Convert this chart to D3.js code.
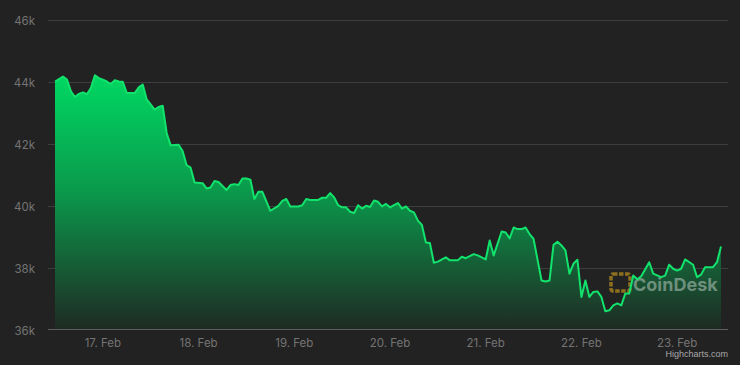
<!DOCTYPE html>
<html lang="en">
<head>
    <meta charset="UTF-8">
    <title>BTC price</title>
    <style>
        body, html {
            margin: 0;
            padding: 0;
            background: #222222;
        }
        #chart text {
            font-family: Inter, "Noto Sans", sans-serif;
        }
    </style>
    <script src="https://d3js.org/d3.v7.min.js"></script>
</head>
<body>
    <div id="chart"></div>
    <script>
        // hours since 16 Feb 2022 00:00 UTC
        const hours = [
            12, 14, 15, 16, 17, 18, 19, 20, 21, 22,
            23, 24, 25, 26, 27, 28, 29, 30, 32, 33,
            34, 35, 37, 38, 39, 40, 41, 43, 44, 45,
            46, 47, 49, 50, 51, 52, 53, 55, 56, 57,
            58, 59, 60, 61, 62, 63, 64, 66, 68, 69,
            70, 71, 73, 74, 75, 76, 78, 79, 80, 81,
            82, 83, 84, 85, 86, 87, 88, 89, 90, 91,
            92, 93, 94, 95, 96, 97, 98, 99, 100, 101,
            102, 103, 104, 105, 106, 107, 108, 110, 111, 112,
            113, 114, 115, 117, 118, 120, 121, 122, 124, 125,
            126, 127, 128, 129, 130, 131, 132, 134, 135, 136,
            137, 138, 139, 140, 141, 142, 143, 144, 145, 146,
            147, 148, 149, 150, 151, 152, 153, 154, 155, 156,
            157, 158, 159, 161, 162, 164, 165, 166, 167, 168,
            169, 170, 172, 173, 174, 175, 177, 178, 179
        ];
        const prices = [
            44000, 44160, 44060, 43680, 43500, 43600, 43650, 43590, 43790, 44200,
            44110, 44060, 44000, 43920, 44040, 44000, 43990, 43630, 43630, 43810,
            43900, 43420, 43090, 43180, 43220, 42340, 41940, 41960, 41760, 41300,
            41220, 40740, 40720, 40550, 40580, 40790, 40760, 40500, 40660, 40690,
            40660, 40870, 40870, 40830, 40210, 40440, 40440, 39830, 39990, 40150,
            40210, 39970, 39970, 40010, 40210, 40180, 40180, 40250, 40250, 40400,
            40260, 40010, 39940, 39940, 39800, 39760, 40010, 39900, 39990, 39950,
            40160, 40120, 39970, 40050, 39940, 40010, 40080, 39900, 39970, 39830,
            39780, 39510, 39370, 38810, 38790, 38150, 38190, 38330, 38230, 38230,
            38230, 38350, 38300, 38430, 38390, 38260, 38870, 38390, 39160, 39130,
            38940, 39290, 39240, 39240, 39290, 39080, 38920, 37580, 37550, 37580,
            38730, 38830, 38710, 38550, 37800, 38120, 38250, 37050, 37580, 37050,
            37210, 37230, 37050, 36590, 36620, 36780, 36840, 36780, 37160, 37160,
            37740, 37620, 37720, 38170, 37800, 37690, 37740, 38090, 37960, 37900,
            37960, 38260, 38090, 37690, 37770, 38010, 38010, 38170, 38680
        ];
        const yTicks = [36000, 38000, 40000, 42000, 44000, 46000];

        const width = 740, height = 365;
        const plotLeft = 48, plotRight = 728, plotTop = 19, plotBottom = 330;

        const start = Date.UTC(2022, 1, 16);
        const data = hours.map((h, i) => ({ date: new Date(start + h * 3600e3), price: prices[i] }));

        const svg = d3.select("#chart").append("svg")
            .attr("width", width)
            .attr("height", height)
            .style("display", "block");

        svg.append("rect")
            .attr("width", width)
            .attr("height", height)
            .attr("fill", "#222222");

        const x = d3.scaleUtc()
            .domain(d3.extent(data, d => d.date))
            .range([55, 721]);

        const y = d3.scaleLinear()
            .domain([36000, 46000])
            .range([plotBottom - 0.5, plotTop + 0.5]);

        // gradient for the area
        const grad = svg.append("defs").append("linearGradient")
            .attr("id", "areaGrad")
            .attr("gradientUnits", "userSpaceOnUse")
            .attr("x1", 0).attr("x2", 0)
            .attr("y1", y(d3.max(prices)))
            .attr("y2", plotBottom);
        grad.append("stop").attr("offset", "0").attr("stop-color", "#00d862").attr("stop-opacity", 1);
        grad.append("stop").attr("offset", "0.45").attr("stop-color", "#0a9a4c").attr("stop-opacity", 1);
        grad.append("stop").attr("offset", "1").attr("stop-color", "#1f2a23").attr("stop-opacity", 1);

        // grid lines
        svg.append("g")
            .selectAll("line")
            .data(yTicks.filter(t => t !== 36000))
            .join("line")
            .attr("x1", plotLeft)
            .attr("x2", plotRight)
            .attr("y1", d => Math.round(y(d)) + 0.5)
            .attr("y2", d => Math.round(y(d)) + 0.5)
            .attr("stroke", "#3e3e3e")
            .attr("stroke-width", 1);

        // area + line
        const area = d3.area()
            .x(d => x(d.date))
            .y0(plotBottom)
            .y1(d => y(d.price));

        const line = d3.line()
            .x(d => x(d.date))
            .y(d => y(d.price));

        svg.append("path")
            .datum(data)
            .attr("d", area)
            .attr("fill", "url(#areaGrad)");

        // watermark
        const wm = svg.append("g")
            .attr("transform", "translate(609, 272)")
            .attr("opacity", 0.75);
        wm.append("rect")
            .attr("x", 2).attr("y", 2)
            .attr("width", 19).attr("height", 17)
            .attr("rx", 2)
            .attr("fill", "none")
            .attr("stroke", "#b08a1e")
            .attr("stroke-width", 3.5)
            .attr("stroke-dasharray", "4.5 1.5");
        svg.append("text")
            .attr("x", 633)
            .attr("y", 291)
            .attr("fill", "rgba(255,255,255,0.38)")
            .style("font-size", "18px")
            .style("font-weight", "700")
            .text("CoinDesk");

        svg.append("path")
            .datum(data)
            .attr("d", line)
            .attr("fill", "none")
            .attr("stroke", "#12e36c")
            .attr("stroke-width", 2)
            .attr("stroke-linejoin", "round");

        // bottom axis line
        svg.append("line")
            .attr("x1", plotLeft)
            .attr("x2", plotRight)
            .attr("y1", plotBottom - 0.5)
            .attr("y2", plotBottom - 0.5)
            .attr("stroke", "#5e5e5e")
            .attr("stroke-width", 1);

        // y labels
        svg.append("g")
            .selectAll("text")
            .data(yTicks)
            .join("text")
            .attr("x", 35)
            .attr("y", d => y(d) + 5)
            .attr("text-anchor", "end")
            .attr("fill", "#747474")
            .style("font-size", "11.5px")
            .text(d => d / 1000 + "k");

        // x labels
        const fmt = d3.utcFormat("%-d. %b");
        svg.append("g")
            .selectAll("text")
            .data(x.ticks(d3.utcDay.every(1)))
            .join("text")
            .attr("x", d => x(d))
            .attr("y", 347)
            .attr("text-anchor", "middle")
            .attr("fill", "#747474")
            .style("font-size", "11.5px")
            .text(d => fmt(d));

        // credits
        svg.append("text")
            .attr("x", 728)
            .attr("y", 357)
            .attr("text-anchor", "end")
            .attr("fill", "#a8a8a8")
            .style("font-family", "'Liberation Sans', Arial, sans-serif")
            .style("font-size", "9px")
            .text("Highcharts.com");
    </script>
</body>
</html>
